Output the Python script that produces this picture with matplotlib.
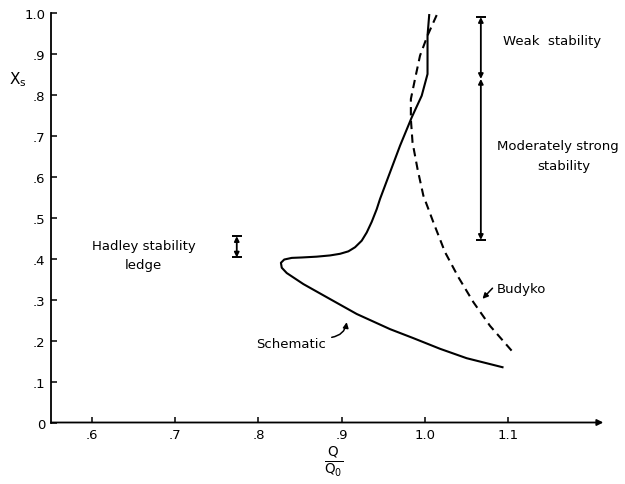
import numpy as np
import matplotlib
matplotlib.use('Agg')
import matplotlib.pyplot as plt

# schematic curve (Q/Q0, x_s) from top to bottom
schem_q = [1.005, 1.003, 1.003, 0.996, 0.984, 0.970, 0.958, 0.946, 0.942, 0.936,
           0.930, 0.924, 0.916, 0.908, 0.898, 0.886, 0.870, 0.852, 0.840, 0.831,
           0.827, 0.828, 0.834, 0.854, 0.882, 0.918, 0.958, 0.986, 1.018, 1.050,
           1.093]
schem_x = [0.995, 0.945, 0.851, 0.798, 0.745, 0.676, 0.611, 0.546, 0.521, 0.490,
           0.464, 0.444, 0.428, 0.418, 0.412, 0.408, 0.405, 0.403, 0.402, 0.398,
           0.390, 0.378, 0.365, 0.338, 0.306, 0.265, 0.228, 0.206, 0.180, 0.157,
           0.135]

# Budyko curve (dashed)
budyko_q = [1.014, 1.003, 0.994, 0.988, 0.983, 0.983, 0.985, 0.991, 0.998, 1.010,
            1.024, 1.040, 1.058, 1.078, 1.108]
budyko_x = [0.995, 0.945, 0.896, 0.839, 0.790, 0.741, 0.684, 0.619, 0.554, 0.489,
            0.416, 0.355, 0.294, 0.236, 0.166]

# stability ranges
stab_q = 1.067
stab_weak = (0.839, 0.99)
stab_mod = (0.446, 0.839)
hadley_q = 0.774
hadley_range = (0.403, 0.455)

xticks = [0.6, 0.7, 0.8, 0.9, 1.0, 1.1]
xticklabels = ['.6', '.7', '.8', '.9', '1.0', '1.1']
yticks = [0, 0.1, 0.2, 0.3, 0.4, 0.5, 0.6, 0.7, 0.8, 0.9, 1.0]
yticklabels = ['0', '.1', '.2', '.3', '.4', '.5', '.6', '.7', '.8', '.9', '1.0']

fs = 9.5
fig = plt.figure(figsize=(6.25, 4.85), dpi=100)
ax = fig.add_axes([0.0816, 0.1268, 0.905, 0.8443])

ax.plot(schem_q, schem_x, color='black', lw=1.5, solid_joinstyle='round')
ax.plot(budyko_q, budyko_x, color='black', lw=1.5, linestyle=(0, (4, 2.6)))

def range_bar(q, lo, hi):
    ax.annotate('', xy=(q, hi), xytext=(q, lo),
                arrowprops=dict(arrowstyle='<|-|>', color='black', lw=1.3,
                                mutation_scale=7, shrinkA=0, shrinkB=0))

range_bar(stab_q, *stab_weak)
range_bar(stab_q, *stab_mod)
range_bar(hadley_q, *hadley_range)
for q, ends in [(stab_q, [stab_weak[1], stab_mod[0]]), (hadley_q, list(hadley_range))]:
    ax.plot([q] * len(ends), ends, linestyle='none', marker='_', ms=7, mew=1.4, color='black')

ax.text(1.152, 0.932, 'Weak  stability', ha='center', va='center', fontsize=fs)
ax.text(1.160, 0.676, 'Moderately strong', ha='center', va='center', fontsize=fs)
ax.text(1.167, 0.627, 'stability', ha='center', va='center', fontsize=fs)
ax.text(0.662, 0.432, 'Hadley stability', ha='center', va='center', fontsize=fs)
ax.text(0.662, 0.387, 'ledge', ha='center', va='center', fontsize=fs)
ax.text(1.086, 0.328, 'Budyko', ha='left', va='center', fontsize=fs)
ax.text(0.839, 0.192, 'Schematic', ha='center', va='center', fontsize=fs)

ax.annotate('', xy=(1.069, 0.302), xytext=(1.081, 0.328),
            arrowprops=dict(arrowstyle='-|>', color='black', lw=1.1,
                            mutation_scale=8, shrinkA=0, shrinkB=0))
ax.annotate('', xy=(0.906, 0.245), xytext=(0.888, 0.208),
            arrowprops=dict(arrowstyle='-|>', color='black', lw=1.1,
                            mutation_scale=8, shrinkA=0, shrinkB=0,
                            connectionstyle='arc3,rad=0.35'))

ax.set_xlim(0.551, 1.23)
ax.set_ylim(0, 1.0)
ax.spines['top'].set_visible(False)
ax.spines['right'].set_visible(False)
ax.spines['bottom'].set_visible(False)
ax.spines['left'].set_linewidth(1.3)
ax.annotate('', xy=(1.214, 0), xytext=(0.551, 0), xycoords='data',
            arrowprops=dict(arrowstyle='-|>', color='black', lw=1.3,
                            mutation_scale=9, shrinkA=0, shrinkB=0),
            annotation_clip=False)

ax.set_xticks(xticks)
ax.set_xticklabels(xticklabels)
ax.set_yticks(yticks)
ax.set_yticklabels(yticklabels)
ax.tick_params(direction='in', length=4, width=1.1, labelsize=fs, pad=4)

ax.set_xlabel(r'$\frac{\mathrm{Q}}{\mathrm{Q_0}}$', fontsize=14, labelpad=2)
fig.text(0.029, 0.835, r'$\mathrm{X_s}$', fontsize=11, ha='center', va='center')

fig.savefig('out.png', dpi=100)
